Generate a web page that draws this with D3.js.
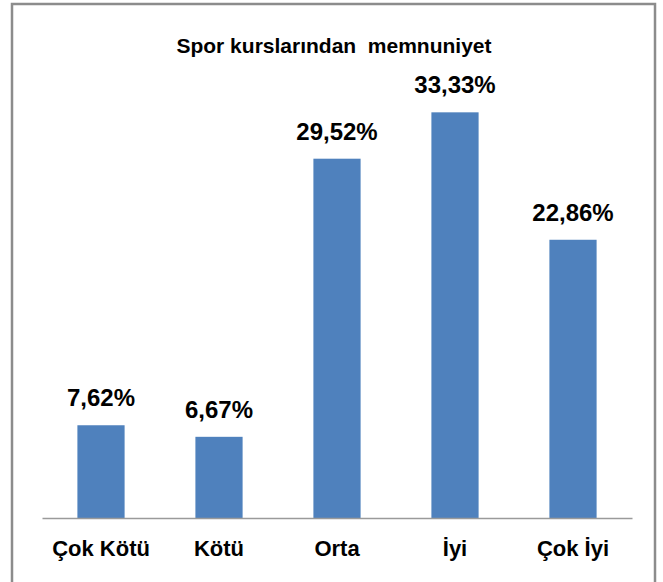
<!DOCTYPE html>
<html>
<head>
<meta charset="utf-8">
<script src="https://cdn.jsdelivr.net/npm/d3@7"></script>
<style>
  body { margin: 0; background: #fff; }
  svg { display: block; }
</style>
</head>
<body>
<script>
"use strict";

// chart data
const categories = ["Çok Kötü", "Kötü", "Orta", "İyi", "Çok İyi"];
const values = [7.62, 6.67, 29.52, 33.33, 22.86];
const title = "Spor kurslarından  memnuniyet";

const width = 663;
const height = 582;
const margin = { top: 92, right: 31, bottom: 64, left: 42 };
const font = "'Liberation Sans', Arial, sans-serif";

const svg = d3.select("body").append("svg")
  .attr("width", width)
  .attr("height", height);

// outer frame
svg.append("rect")
  .attr("x", 12)
  .attr("y", 4)
  .attr("width", 643)
  .attr("height", 590)
  .attr("fill", "#fff")
  .attr("stroke", "#8c8c8c")
  .attr("stroke-width", 2.5);

const x = d3.scaleBand()
  .domain(categories)
  .range([margin.left, width - margin.right])
  .paddingInner(0.6)
  .paddingOuter(0.3);

const y = d3.scaleLinear()
  .domain([0, 35])
  .range([height - margin.bottom, margin.top]);

svg.append("text")
  .attr("x", 334)
  .attr("y", 53)
  .attr("text-anchor", "middle")
  .attr("font-family", font)
  .attr("font-weight", "bold")
  .attr("font-size", 21)
  .attr("fill", "#000")
  .style("white-space", "pre")
  .text(title);

// bars
svg.append("g")
  .selectAll("rect")
  .data(values)
  .join("rect")
  .attr("x", (d, i) => x(categories[i]))
  .attr("y", (d) => y(d))
  .attr("width", x.bandwidth())
  .attr("height", (d) => y(0) - y(d))
  .attr("fill", "#4f81bd");

// value labels
svg.append("g")
  .attr("font-family", font)
  .attr("font-weight", "bold")
  .attr("font-size", 24)
  .attr("text-anchor", "middle")
  .selectAll("text")
  .data(values)
  .join("text")
  .attr("x", (d, i) => x(categories[i]) + x.bandwidth() / 2)
  .attr("y", (d) => y(d) - 19)
  .text((d) => d.toFixed(2).replace(".", ",") + "%");

// x axis
const xAxis = svg.append("g")
  .attr("transform", `translate(0,${y(0)})`)
  .call(d3.axisBottom(x).tickSize(0).tickPadding(22));

xAxis.select(".domain").attr("stroke", "#9a9a9a").attr("stroke-width", 1.5);
xAxis.selectAll("text")
  .attr("font-family", font)
  .attr("font-weight", "bold")
  .attr("font-size", 22)
  .attr("fill", "#000");
</script>
</body>
</html>
